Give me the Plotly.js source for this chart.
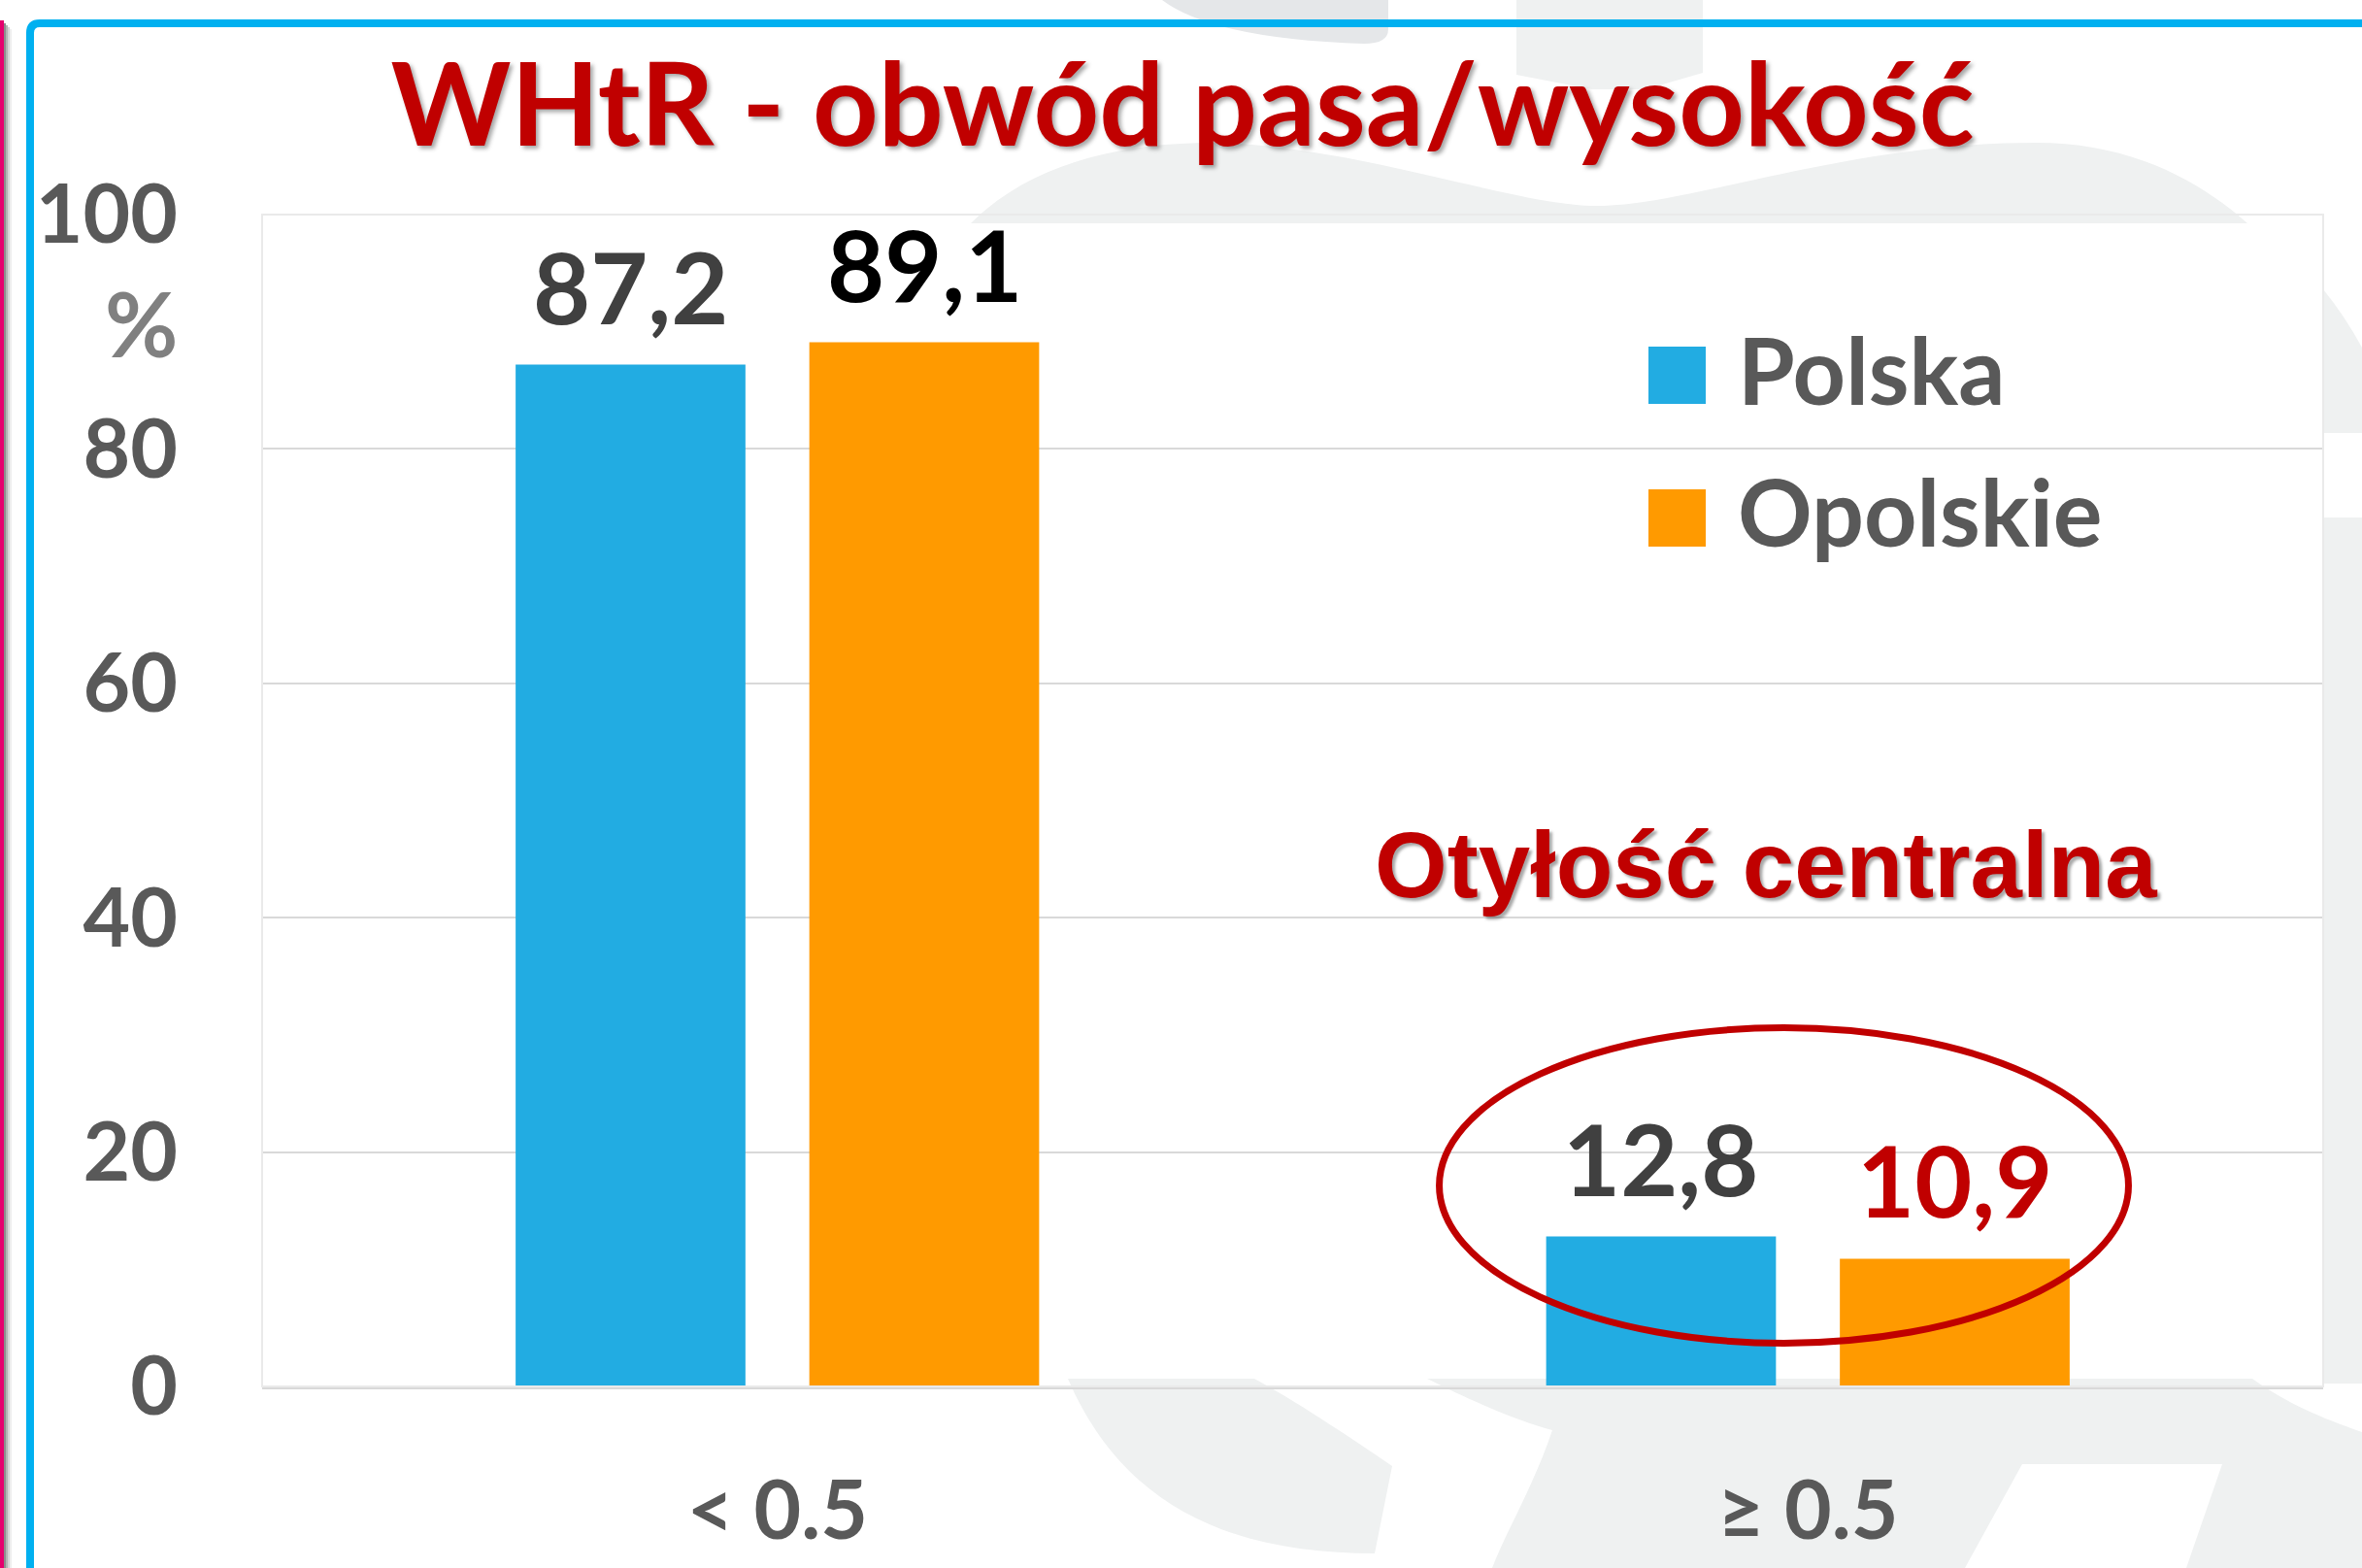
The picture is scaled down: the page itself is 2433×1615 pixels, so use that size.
<!DOCTYPE html>
<html>
<head>
<meta charset="utf-8">
<script src="https://cdn.plot.ly/plotly-3.0.1.min.js"></script>
<style>
  html, body { margin: 0; padding: 0; background: #ffffff; }
  #chart { width: 2433px; height: 1615px; }
</style>
</head>
<body>
<div id="chart"></div>
<script>
// ---------- DATA ----------
const categories = ['< 0.5', '\u2265 0.5'];
const seriesNames = ['Polska', 'Opolskie'];
const polska = [87.2, 12.8];
const opolskie = [89.1, 10.9];
const yTickValues = [0, 20, 40, 60, 80, 100];
const yTickLabels = ['0', '20', '40', '60', '80', '100'];
const chartTitle = 'WHtR - obwód pasa/wysokość';
const highlightText = 'Otyłość centralna';
const unitLabel = '%';

// ---------- STYLE ----------
const seriesColors = ['#22ACE2', '#FF9A00'];
const labelColors = [['#404040', '#404040'], ['#000000', '#C00000']];
const barWidth = 0.223;
const barOffsets = [-0.254, 0.031];
const FONT = 'Lato, "Open Sans", sans-serif';

// plot area in pixels (used for decorative shapes only)
const W = 2433, H = 1615;
const PL = 270, PR = 2393, PT = 221, PB = 1428;
const px = x => (x - PL) / (PR - PL);
const py = y => (PB - y) / (PB - PT);
const P = s => s.replace(/(-?\d+(?:\.\d+)?),(-?\d+(?:\.\d+)?)/g,
  (m, a, b) => px(+a).toFixed(5) + ',' + py(+b).toFixed(5));

const idx = categories.map((c, i) => i);
const seriesValues = [polska, opolskie];

const traces = seriesValues.map((vals, s) => ({
  type: 'bar',
  name: seriesNames[s],
  x: idx,
  y: vals,
  width: barWidth,
  offset: barOffsets[s],
  marker: { color: seriesColors[s], line: { width: 0 } },
  hoverinfo: 'skip',
  showlegend: false
}));

const annotations = [];
// data labels
seriesValues.forEach((vals, s) => {
  vals.forEach((v, i) => {
    annotations.push({
      xref: 'x', yref: 'y',
      x: idx[i] + barOffsets[s] + barWidth / 2,
      y: v,
      xanchor: 'center', yanchor: 'bottom', yshift: 18,
      showarrow: false,
      text: v.toFixed(1).replace('.', ','),
      font: { family: FONT, size: 102, weight: 700, color: labelColors[s][i] }
    });
  });
});
// legend text + swatches (manual legend, large swatches)
const legendY = [380, 526];
const legendSwatchTop = [357, 504];
const legendSwatchSize = 59;
const legendShapes = [];
seriesNames.forEach((n, s) => {
  annotations.push({
    xref: 'paper', yref: 'paper', x: px(1788), y: py(legendY[s]),
    xanchor: 'left', yanchor: 'middle', showarrow: false,
    text: n, font: { family: FONT, size: 95, weight: 700, color: '#595959' }
  });
  legendShapes.push({
    type: 'rect', xref: 'paper', yref: 'paper', layer: 'above',
    line: { width: 0 }, fillcolor: seriesColors[s],
    x0: px(1698), x1: px(1698 + legendSwatchSize),
    y0: py(legendSwatchTop[s] + legendSwatchSize), y1: py(legendSwatchTop[s])
  });
});
// % unit label
annotations.push({
  xref: 'paper', yref: 'paper', x: px(145), y: py(332),
  xanchor: 'center', yanchor: 'middle', showarrow: false,
  text: unitLabel, font: { family: FONT, size: 92, weight: 700, color: '#808080' }
});
// highlight text
annotations.push({
  xref: 'paper', yref: 'paper', x: px(1819), y: py(890),
  xanchor: 'center', yanchor: 'middle', showarrow: false,
  text: highlightText,
  font: { family: '"Liberation Sans", Arial, sans-serif', size: 96, weight: 700, color: '#C00000',
          shadow: '3px 3px 3px rgba(0,0,0,0.35)' }
});

const WM = '#EFF1F1';
const shapes = [
  // faint watermark pieces (outside plot area)
  { type: 'path', xref: 'paper', yref: 'paper', layer: 'below', line: { width: 0 }, fillcolor: '#E5E7E9',
    path: P('M1197,0 Q1250,40 1405,45 Q1430,45 1430,30 L1430,0 Z') },
  { type: 'path', xref: 'paper', yref: 'paper', layer: 'below', line: { width: 0 }, fillcolor: WM,
    path: P('M1562,0 L1562,77 L1640,92 L1695,92 L1754,75 L1754,0 Z') },
  { type: 'path', xref: 'paper', yref: 'paper', layer: 'below', line: { width: 0 }, fillcolor: WM,
    path: P('M1000,230 C1060,170 1150,147 1250,147 C1400,150 1560,212 1645,212 C1740,212 1900,147 2097,147 C2200,147 2270,190 2315,230 Z') },
  { type: 'path', xref: 'paper', yref: 'paper', layer: 'below', line: { width: 0 }, fillcolor: WM,
    path: P('M2393,298 Q2415,325 2433,358 L2433,446 L2393,446 Z') },
  { type: 'path', xref: 'paper', yref: 'paper', layer: 'below', line: { width: 0 }, fillcolor: WM,
    path: P('M2393,533 L2433,533 L2433,1425 L2393,1425 Z') },
  { type: 'path', xref: 'paper', yref: 'paper', layer: 'below', line: { width: 0 }, fillcolor: WM,
    path: P('M1100,1420 C1160,1560 1280,1600 1416,1600 L1434,1510 C1390,1480 1330,1440 1292,1420 Z') },
  { type: 'path', xref: 'paper', yref: 'paper', layer: 'below', line: { width: 0 }, fillcolor: WM,
    path: P('M1470,1420 C1530,1450 1570,1465 1599,1473 C1580,1530 1550,1580 1537,1615 L2433,1615 L2433,1475 C2390,1460 2355,1445 2320,1420 Z') },
  { type: 'path', xref: 'paper', yref: 'paper', layer: 'below', line: { width: 0 }, fillcolor: '#FFFFFF',
    path: P('M2083,1508 L2289,1508 L2252,1615 L2024,1615 Z') },
  // magenta edge with shadow
  { type: 'rect', xref: 'paper', yref: 'paper', layer: 'below', line: { width: 0 }, fillcolor: '#E5006D',
    x0: px(0), x1: px(4), y0: py(21), y1: py(1620) },
  { type: 'rect', xref: 'paper', yref: 'paper', layer: 'below', line: { width: 0 }, fillcolor: '#8C8C8C',
    x0: px(4), x1: px(6), y0: py(24), y1: py(1620) },
  { type: 'rect', xref: 'paper', yref: 'paper', layer: 'below', line: { width: 0 }, fillcolor: '#B4B4B4',
    x0: px(6), x1: px(8), y0: py(26), y1: py(1620) },
  { type: 'rect', xref: 'paper', yref: 'paper', layer: 'below', line: { width: 0 }, fillcolor: '#D6D6D6',
    x0: px(8), x1: px(10), y0: py(28), y1: py(1620) },
  { type: 'rect', xref: 'paper', yref: 'paper', layer: 'below', line: { width: 0 }, fillcolor: '#EEEEEE',
    x0: px(10), x1: px(12), y0: py(30), y1: py(1620) },
  // blue frame
  { type: 'path', xref: 'paper', yref: 'paper', layer: 'below', fillcolor: 'rgba(0,0,0,0)',
    line: { color: '#00B0F0', width: 8 },
    path: P('M31,1625 L31,34 Q31,24 41,24 L2445,24') },
  // plot area border
  { type: 'rect', xref: 'paper', yref: 'paper', layer: 'above', fillcolor: 'rgba(0,0,0,0)',
    line: { color: '#EAEAEA', width: 2 }, x0: 0, x1: 1, y0: 0, y1: 1 },
  // highlight ellipse around second category
  { type: 'circle', xref: 'x', yref: 'y', layer: 'above', fillcolor: 'rgba(0,0,0,0)',
    line: { color: '#C00000', width: 7 },
    x0: idx[1] - 0.3577, x1: idx[1] + 0.3111, y0: 3.69, y1: 30.61 }
].concat(legendShapes);

const layout = {
  width: W, height: H,
  margin: { l: PL, r: W - PR, t: PT, b: H - PB, pad: 0 },
  paper_bgcolor: '#FFFFFF',
  plot_bgcolor: '#FFFFFF',
  barmode: 'overlay',
  showlegend: false,
  title: {
    text: chartTitle,
    x: 1218 / W, xanchor: 'center',
    y: 1 - 109 / H, yanchor: 'middle',
    font: { family: FONT, size: 118, weight: 700, color: '#C00000',
            shadow: '3px 3px 4px rgba(0,0,0,0.35)' }
  },
  xaxis: {
    range: [-0.5, 1.5],
    tickmode: 'array', tickvals: idx, ticktext: categories,
    showgrid: false, zeroline: false,
    showline: true, linecolor: '#D9D9D9', linewidth: 3,
    ticks: '', ticklabelstandoff: 53,
    tickfont: { family: FONT, size: 84, weight: 700, color: '#595959' },
    fixedrange: true
  },
  yaxis: {
    range: [0, 100],
    tickmode: 'array', tickvals: yTickValues, ticktext: yTickLabels,
    showgrid: true, gridcolor: '#D9D9D9', gridwidth: 2,
    zeroline: false, showline: false,
    ticks: '', ticklabelstandoff: 86,
    tickfont: { family: FONT, size: 84, weight: 700, color: '#595959' },
    fixedrange: true
  },
  annotations: annotations,
  shapes: shapes
};

Plotly.newPlot('chart', traces, layout, { staticPlot: true, displayModeBar: false });
</script>
</body>
</html>
